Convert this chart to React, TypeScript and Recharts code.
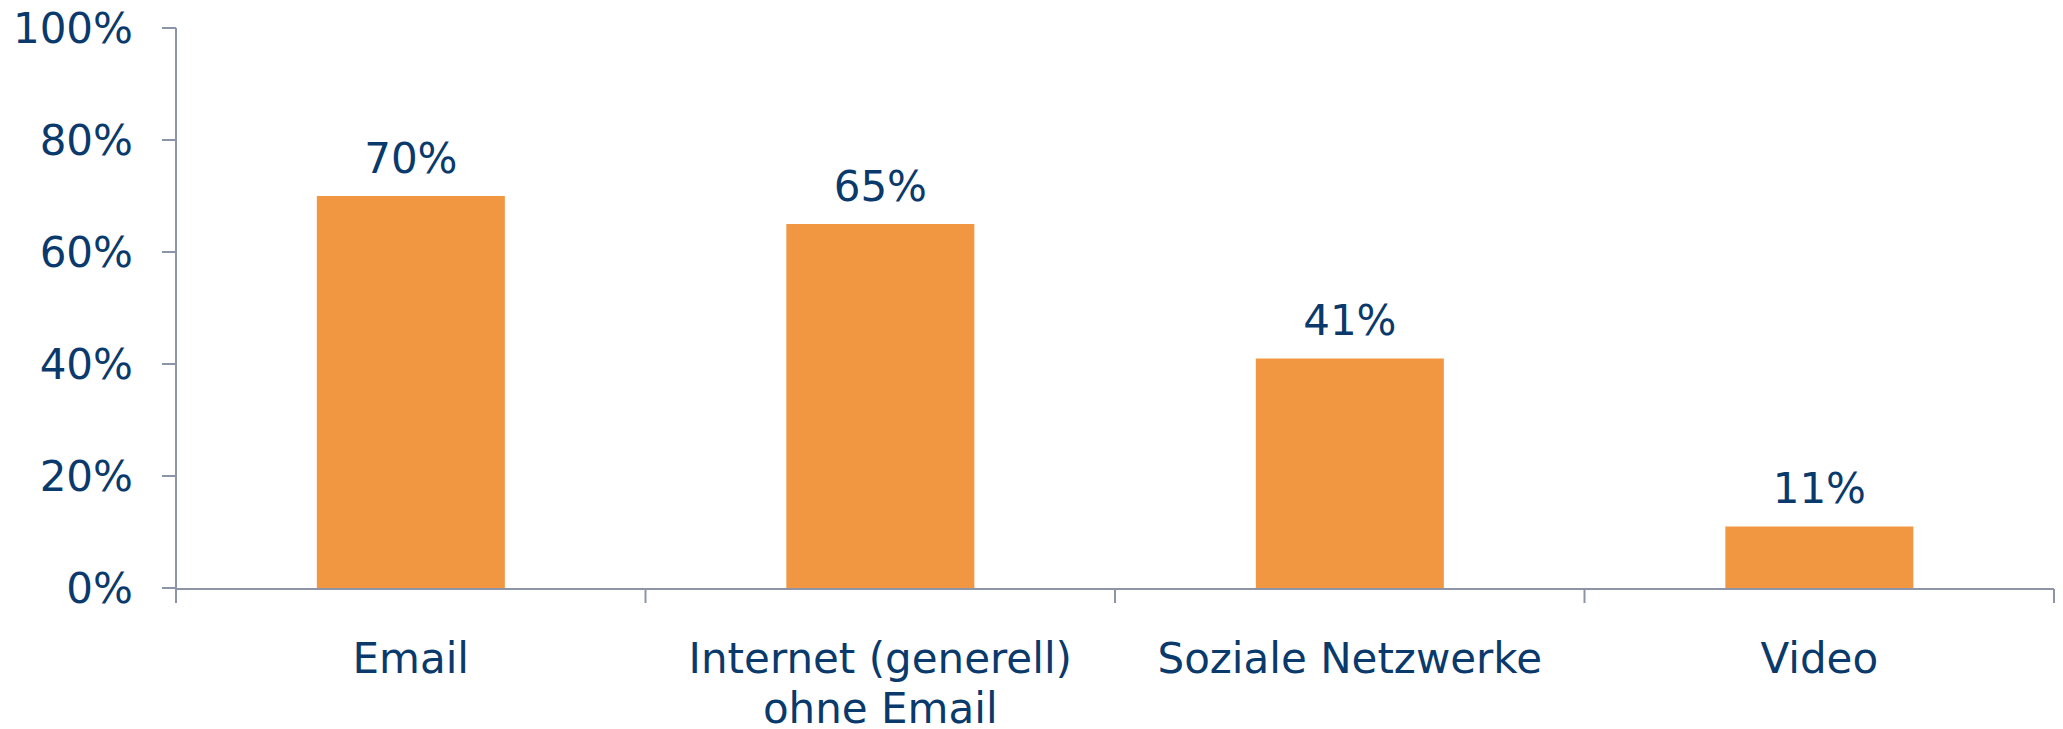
import { BarChart, Bar, XAxis, YAxis, LabelList } from 'recharts';

const categories = ['Email', 'Internet (generell)\nohne Email', 'Soziale Netzwerke', 'Video'];
const shares = [70, 65, 41, 11];
const yTicks = [0, 20, 40, 60, 80, 100];
const boundaryTicks = [0, 1, 2, 3, 4];

const TEXT = '#0a3a6c';
const AXIS = '#8c94a6';
const BAR = '#f29741';
const FONT = '"DejaVu Sans", Verdana, sans-serif';

const chartData = categories.map((name, i) => ({ name, share: shares[i] }));

function CategoryTick(props: any) {
  const { x, y, payload } = props;
  const lines = String(payload.value).split('\n');
  return (
    <text x={x} y={y} textAnchor="middle" fill={TEXT} fontSize={42} fontFamily={FONT}>
      {lines.map((line, i) => (
        <tspan key={i} x={x} dy={i === 0 ? '0.71em' : 50}>
          {line}
        </tspan>
      ))}
    </text>
  );
}

export default function App() {
  return (
    <div style={{ position: 'absolute', left: 0, top: 0 }}>
      <BarChart
        width={2063}
        height={729}
        data={chartData}
        margin={{ top: 28, right: 9, bottom: 139, left: 0 }}
        barCategoryGap="30%"
      >
        {/* second x axis only draws the base line and the ticks between categories */}
        <XAxis
          xAxisId="grid"
          type="number"
          dataKey="share"
          domain={[0, 4]}
          ticks={boundaryTicks}
          allowDataOverflow
          height={1}
          tickSize={14}
          tick={() => <g />}
          axisLine={{ stroke: AXIS, strokeWidth: 2 }}
          tickLine={{ stroke: AXIS, strokeWidth: 2 }}
        />
        <XAxis
          xAxisId="cat"
          dataKey="name"
          height={1}
          axisLine={false}
          tickLine={false}
          tickSize={0}
          tickMargin={55}
          interval={0}
          tick={<CategoryTick />}
        />
        <YAxis
          width={176}
          domain={[0, 100]}
          ticks={yTicks}
          tickFormatter={(v: number) => `${v}%`}
          tickSize={14}
          tickMargin={29}
          axisLine={{ stroke: AXIS, strokeWidth: 2 }}
          tickLine={{ stroke: AXIS, strokeWidth: 2 }}
          tick={{ fill: TEXT, fontSize: 42, fontFamily: FONT }}
        />
        <Bar xAxisId="cat" dataKey="share" fill={BAR} isAnimationActive={false}>
          <LabelList
            dataKey="share"
            position="top"
            offset={23}
            formatter={(v: any) => `${v}%`}
            fill={TEXT}
            fontSize={42}
            fontFamily={FONT}
          />
        </Bar>
      </BarChart>
    </div>
  );
}
